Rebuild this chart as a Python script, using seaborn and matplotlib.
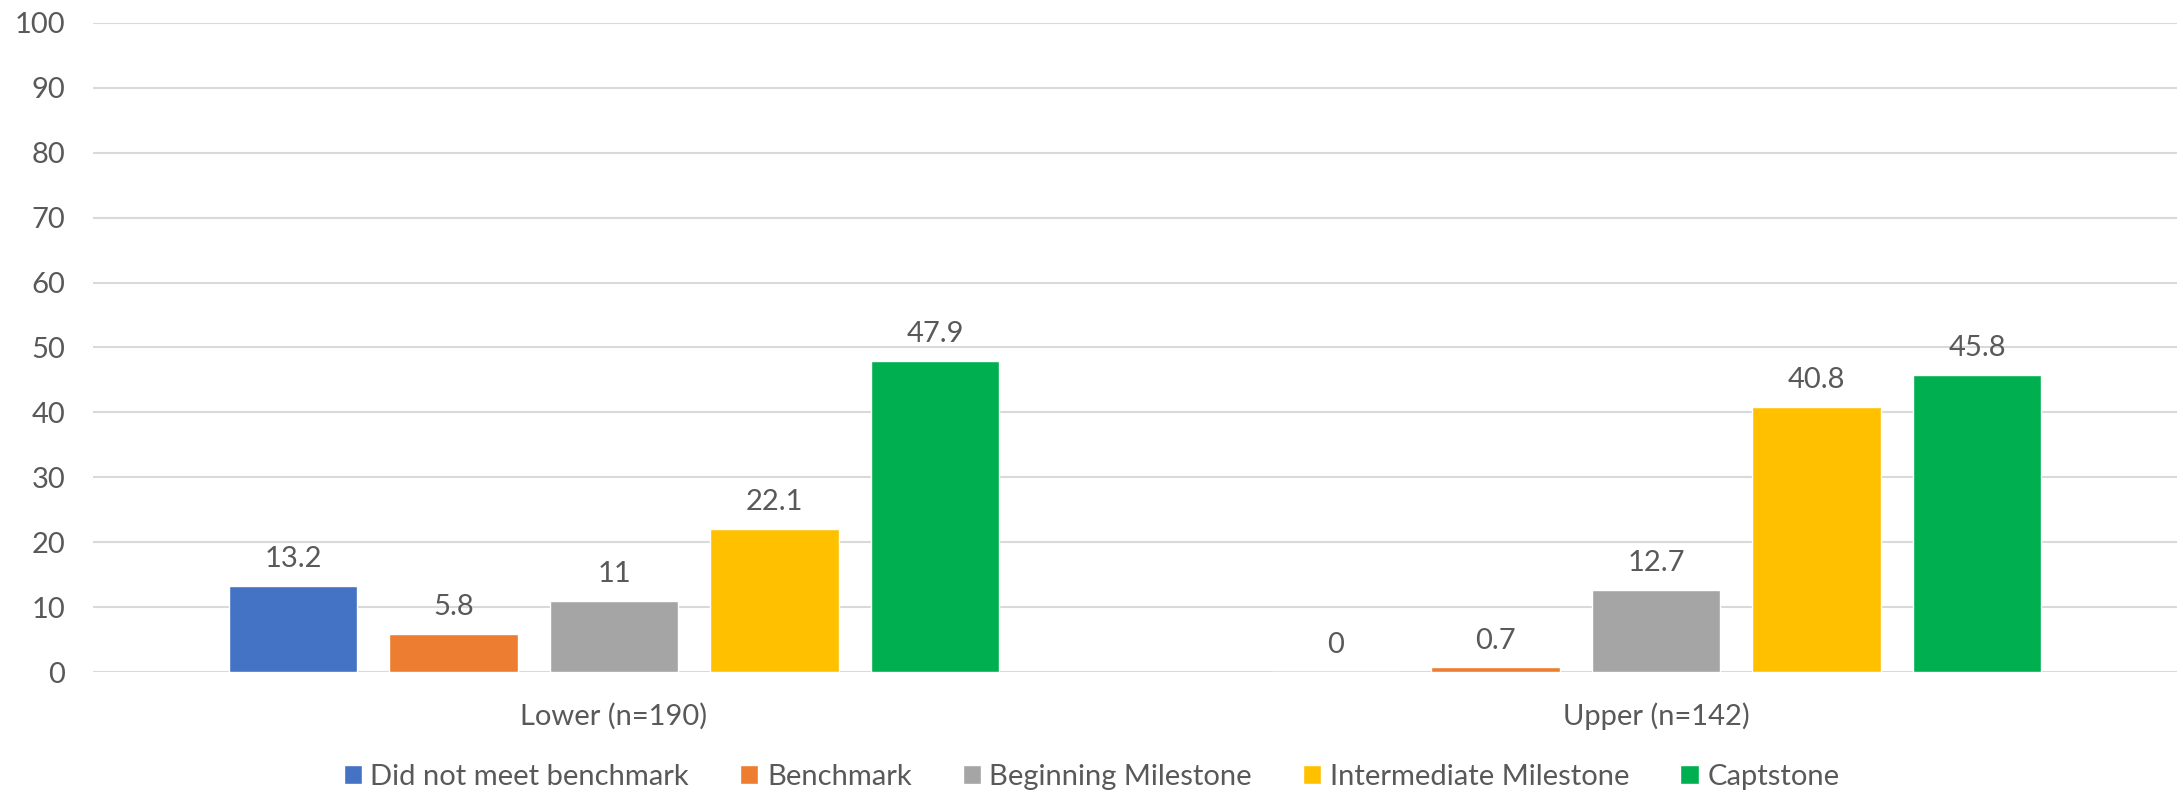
import pandas as pd
import matplotlib.pyplot as plt
import seaborn as sns

# datos del gráfico
groups = ['Lower (n=190)', 'Upper (n=142)']
levels = ['Did not meet benchmark', 'Benchmark', 'Beginning Milestone',
          'Intermediate Milestone', 'Captstone']
lower_vals = [13.2, 5.8, 11, 22.1, 47.9]
upper_vals = [0, 0.7, 12.7, 40.8, 45.8]
colors = ['#4472C4', '#ED7D31', '#A5A5A5', '#FFC000', '#00B050']

df = pd.DataFrame({
    'group': [groups[0]] * 5 + [groups[1]] * 5,
    'level': levels * 2,
    'value': lower_vals + upper_vals,
})

sns.set_style('white')
plt.rcParams['font.family'] = ['Lato', 'DejaVu Sans']
text_col = '#595959'
fs = 21

fig = plt.figure(figsize=(21.83, 7.92), dpi=100)
ax = fig.add_axes([0.0426, 0.1515, 0.9547, 0.8195])

sns.barplot(data=df, x='group', y='value', hue='level', hue_order=levels,
            palette=colors, width=0.77, gap=0.2, saturation=1, ax=ax, legend=True)

for cont in ax.containers:
    vals = [b.get_height() for b in cont]
    ax.bar_label(cont, labels=[f'{v:g}' for v in vals], padding=10,
                 fontsize=fs, color=text_col)

ax.set_ylim(0, 100)
ax.set_yticks(range(0, 101, 10))
ax.set_xlim(-0.5, 1.5)
ax.yaxis.grid(True, color='#D9D9D9', linewidth=1.5)
ax.set_axisbelow(True)
for s in ax.spines.values():
    s.set_visible(False)
ax.tick_params(axis='both', length=0, labelsize=fs, colors=text_col)
ax.tick_params(axis='x', pad=22)
ax.tick_params(axis='y', pad=20)
ax.set_xlabel('')
ax.set_ylabel('')

handles, labels = ax.get_legend_handles_labels()
ax.legend_.remove()
fig.legend(handles, labels, loc='lower center', bbox_to_anchor=(0.5, -0.03),
           ncol=5, frameon=False, fontsize=fs, handlelength=0.62, handleheight=0.62,
           columnspacing=1.75, handletextpad=0.3, labelcolor=text_col)

plt.savefig('out.png', dpi=100)
plt.close()
